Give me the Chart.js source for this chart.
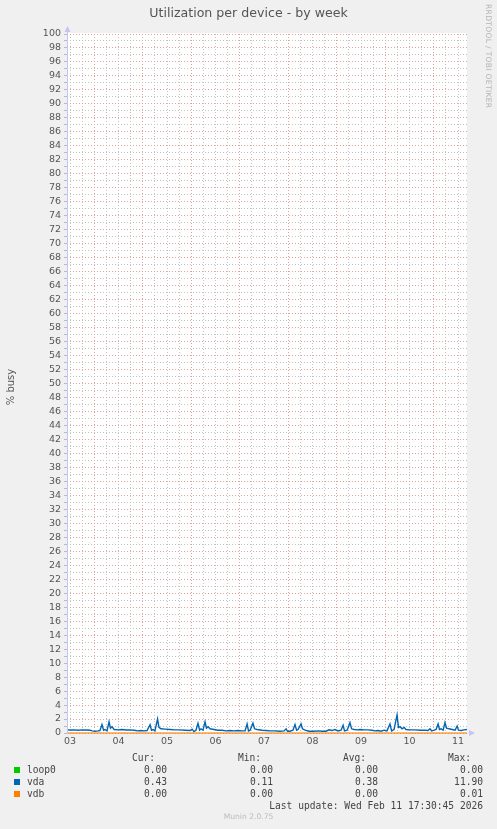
<!DOCTYPE html>
<html>
<head>
<meta charset="utf-8">
<script src="https://cdn.jsdelivr.net/npm/chart.js@4.4.1/dist/chart.umd.min.js"></script>
<style>
  html, body { margin: 0; padding: 0; background: #f0f0f0; }
  #wrap { position: relative; width: 497px; height: 829px; overflow: hidden; font-family: "DejaVu Sans", sans-serif; color: #555; }
  canvas { position: absolute; left: 0; top: 0; }
  .abs { position: absolute; white-space: pre; }
  .mono { font-family: "DejaVu Sans Mono", monospace; font-size: 9.6px; color: #444; line-height: 12px; }
</style>
</head>
<body>
<div id="wrap">
  <canvas id="chart" width="497" height="829"></canvas>
  <div class="abs" style="left:0;width:497px;top:5px;text-align:center;font-size:12.6px;color:#555;">Utilization per device - by week</div>
  <div class="abs" style="left:484px;top:4px;writing-mode:vertical-rl;font-size:7.6px;color:#b4b4b4;letter-spacing:0.3px;">RRDTOOL / TOBI OETIKER</div>
  <div id="legend"></div>
  <div class="abs" style="left:0;width:497px;top:812px;text-align:center;font-size:7.6px;color:#bbb;">Munin 2.0.75</div>
</div>
<script>
// x values are hours since Feb 03 00:00
const dayLabels = ['03', '04', '05', '06', '07', '08', '09', '10', '11'];

const vdaHours = [
  10.5, 12.0, 14.0, 15.9, 17.9, 19.9, 21.9, 22.9, 24.4, 25.8, 26.8, 27.8, 28.6, 29.3, 30.3, 31.3, 32.0, 32.8, 33.8,
  35.7, 37.7, 39.7, 41.7, 43.7, 45.6, 47.1, 48.6, 50.1, 51.6, 52.3, 53.1, 54.0, 55.3, 56.0, 57.0, 59.0,
  61.5, 63.9, 66.4, 68.9, 71.4, 72.4, 73.3, 74.3, 75.3, 76.1, 76.8, 77.8, 78.8, 79.5, 80.3, 81.3, 83.2,
  85.2, 87.2, 89.2, 91.2, 93.1, 95.1, 97.1, 98.6, 99.6, 100.3, 101.1, 102.5, 103.3, 104.5, 107.0, 109.0,
  110.9, 113.4, 115.9, 117.9, 118.9, 119.6, 120.8, 122.3, 123.3, 124.1, 124.8, 126.3, 127.0, 128.3,
  130.2, 132.7, 134.7, 136.7, 138.7, 140.1, 141.6, 143.1, 144.6, 146.1, 147.1, 147.8, 149.1, 150.5,
  151.3, 152.5, 154.0, 155.5, 157.5, 159.4, 161.4, 162.9, 164.4, 165.9, 167.4, 168.8, 170.3, 171.1,
  172.3, 173.8, 174.5, 175.3, 176.3, 177.3, 178.2, 180.2, 182.7, 185.2, 187.7, 189.1, 190.1, 190.9,
  192.1, 193.1, 194.1, 194.8, 195.6, 196.6, 197.5, 198.3, 199.5, 201.0, 202.5, 203.5, 204.2, 205.5,
  206.9, 208.4
];
const vdaValues = [
  0.45, 0.42, 0.45, 0.40, 0.45, 0.42, 0.40, 0.30, 0.25, 0.30, 0.35, 1.20, 0.40, 0.50, 0.30, 1.60, 0.70, 0.90, 0.50,
  0.45, 0.50, 0.42, 0.45, 0.40, 0.30, 0.35, 0.30, 0.35, 1.20, 0.40, 0.50, 0.30, 2.00, 0.80, 0.60, 0.55,
  0.50, 0.45, 0.45, 0.40, 0.35, 0.55, 0.20, 0.40, 1.40, 0.40, 0.60, 0.40, 1.60, 0.70, 0.90, 0.60, 0.50,
  0.40, 0.40, 0.30, 0.35, 0.30, 0.35, 0.30, 0.30, 1.30, 0.30, 0.40, 1.40, 0.60, 0.50, 0.40, 0.35,
  0.30, 0.30, 0.25, 0.30, 0.60, 0.25, 0.25, 0.40, 1.20, 0.40, 0.50, 1.30, 0.60, 0.40,
  0.25, 0.25, 0.30, 0.25, 0.25, 0.45, 0.35, 0.50, 0.30, 0.40, 1.10, 0.30, 0.40, 1.50,
  0.60, 0.50, 0.45, 0.50, 0.45, 0.45, 0.40, 0.30, 0.35, 0.25, 0.40, 0.30, 1.30, 0.30,
  0.50, 2.60, 0.80, 0.90, 0.60, 0.80, 0.50, 0.45, 0.45, 0.40, 0.40, 0.35, 0.60, 0.30,
  0.40, 0.50, 1.30, 0.50, 0.60, 0.40, 1.50, 0.70, 0.60, 0.50, 0.40, 1.00, 0.40, 0.35,
  0.45, 0.50
];
const loop0Hours = [10.5, 208.4];
const loop0Values = [0, 0];
const vdbHours = [10.5, 208.4];
const vdbValues = [0, 0];

const seriesNames = ['loop0', 'vda', 'vdb'];
const seriesColors = ['#00cc00', '#0066b3', '#ff8000'];
const statHeads = ['Cur:', 'Min:', 'Avg:', 'Max:'];
const curValues = ['0.00', '0.43', '0.00'];
const minValues = ['0.00', '0.11', '0.00'];
const avgValues = ['0.00', '0.38', '0.00'];
const maxValues = ['0.00', '11.90', '0.01'];
const lastUpdate = 'Last update: Wed Feb 11 17:30:45 2026';
const yTitle = '% busy';

const toPoints = (xs, ys) => xs.map((x, i) => ({ x: x, y: ys[i] }));

// legend table under the chart
const legend = document.getElementById('legend');
const addText = (text, rightEdge, top, cls) => {
    const d = document.createElement('div');
    d.className = 'abs ' + (cls || 'mono');
    d.style.right = (497 - rightEdge) + 'px';
    d.style.top = top + 'px';
    d.textContent = text;
    legend.appendChild(d);
};
const headRight = [155, 261, 366, 471];
const valRight = [167, 273, 378, 483];
statHeads.forEach((h, i) => addText(h, headRight[i], 752));
seriesNames.forEach((name, r) => {
    const top = 764 + r * 12;
    const sq = document.createElement('div');
    sq.className = 'abs';
    sq.style.cssText = 'left:14px;top:' + (top + 3) + 'px;width:6px;height:6px;background:' + seriesColors[r];
    legend.appendChild(sq);
    const lab = document.createElement('div');
    lab.className = 'abs mono';
    lab.style.left = '27px';
    lab.style.top = top + 'px';
    lab.textContent = name;
    legend.appendChild(lab);
    [curValues, minValues, avgValues, maxValues].forEach((col, c) => addText(col[r], valRight[c], top));
});
addText(lastUpdate, 483, 800);

const majorGrid = 'rgb(225,160,160)';
const minorGrid = 'rgb(195,195,195)';
const axisColor = '#c4c4f6';

const frame = {
    id: 'frame',
    beforeDraw(chart) {
        const { ctx, chartArea: a } = chart;
        ctx.save();
        ctx.fillStyle = '#ffffff';
        ctx.fillRect(a.left, a.top - 1, a.right - a.left, a.bottom - a.top + 1);
        // y axis title
        ctx.translate(11, 387);
        ctx.rotate(-Math.PI / 2);
        ctx.fillStyle = '#555';
        ctx.font = '10px "DejaVu Sans"';
        ctx.textAlign = 'center';
        ctx.textBaseline = 'middle';
        ctx.fillText(yTitle, 0, 0);
        ctx.restore();
    },
    afterDraw(chart) {
        const { ctx, chartArea: a } = chart;
        ctx.save();
        ctx.strokeStyle = axisColor;
        ctx.lineWidth = 1;
        ctx.beginPath();
        ctx.moveTo(a.left + 0.5, a.top - 3);
        ctx.lineTo(a.left + 0.5, a.bottom + 1);
        ctx.stroke();
        ctx.fillStyle = axisColor;
        ctx.beginPath();
        ctx.moveTo(a.left - 2.5, a.top - 2);
        ctx.lineTo(a.left + 3.5, a.top - 2);
        ctx.lineTo(a.left + 0.5, a.top - 8);
        ctx.closePath();
        ctx.fill();
        ctx.beginPath();
        ctx.moveTo(a.right + 2, a.bottom - 3);
        ctx.lineTo(a.right + 2, a.bottom + 3);
        ctx.lineTo(a.right + 8, a.bottom);
        ctx.closePath();
        ctx.fill();
        ctx.restore();
    }
};

new Chart(document.getElementById('chart'), {
    type: 'line',
    data: {
        datasets: [
            { label: 'vdb', data: toPoints(vdbHours, vdbValues), borderColor: 'rgba(255,128,0,0.75)', borderWidth: 1.5, order: 0 },
            { label: 'vda', data: toPoints(vdaHours, vdaValues), borderColor: seriesColors[1], borderWidth: 1.4, order: 1 },
            { label: 'loop0', data: toPoints(loop0Hours, loop0Values), borderColor: 'rgba(0,204,0,0)', borderWidth: 1, order: 2 }
        ]
    },
    options: {
        responsive: false,
        animation: false,
        events: [],
        layout: { padding: { left: 0, right: 30, top: 34, bottom: 80 } },
        elements: { point: { radius: 0 }, line: { tension: 0 } },
        datasets: { line: { clip: 3 } },
        plugins: { legend: { display: false }, tooltip: { enabled: false }, title: { display: false } },
        scales: {
            x: {
                type: 'linear',
                min: 10.5,
                max: 208.4,
                afterBuildTicks: scale => {
                    const t = [];
                    for (let v = 12; v <= 204; v += 6) t.push({ value: v });
                    scale.ticks = t;
                },
                afterFit: scale => { scale.height = 16; },
                border: { display: false, dash: [1, 2] },
                grid: {
                    drawTicks: false,
                    color: c => (c.tick && c.tick.value % 24 === 0) ? majorGrid : minorGrid
                },
                ticks: {
                    autoSkip: false,
                    maxRotation: 0,
                    padding: 3,
                    color: '#555',
                    font: { family: 'DejaVu Sans', size: 9.5 },
                    callback: v => (v % 24 === 12) ? dayLabels[(v - 12) / 24] : ''
                }
            },
            y: {
                min: 0,
                max: 100,
                afterFit: scale => { scale.width = 67; },
                border: { display: false, dash: [1, 2] },
                grid: {
                    drawTicks: true,
                    tickLength: 3,
                    tickColor: '#bbb',
                    color: c => (c.tick && c.tick.value % 2 === 0) ? majorGrid : minorGrid
                },
                ticks: {
                    stepSize: 1,
                    autoSkip: false,
                    padding: 3,
                    color: '#555',
                    font: { family: 'DejaVu Sans', size: 9.5 },
                    callback: v => (v % 2 === 0) ? String(v) : ''
                }
            }
        }
    },
    plugins: [frame]
});
</script>
</body>
</html>
